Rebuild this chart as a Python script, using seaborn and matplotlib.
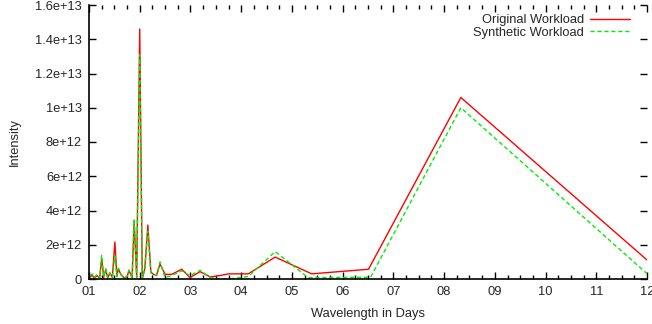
import numpy as np
import pandas as pd
import seaborn as sns
import matplotlib
matplotlib.use("Agg")
import matplotlib.pyplot as plt
from matplotlib.ticker import MultipleLocator, FixedLocator

# wavelength (days) and spectral intensity
orig_days = [1.02, 1.06, 1.10, 1.16, 1.21, 1.25, 1.29, 1.33, 1.37, 1.41, 1.46, 1.51, 1.55,
             1.58, 1.63, 1.70, 1.75, 1.79, 1.85, 1.89, 1.94, 2.00, 2.05, 2.10, 2.16, 2.22,
             2.27, 2.33, 2.40, 2.50, 2.63, 2.83, 2.99, 3.19, 3.39, 3.58, 3.75, 4.14, 4.67,
             5.39, 6.51, 8.33, 12.0]
orig_int = [0.10, 0.25, 0.05, 0.20, 0.05, 1.20, 0.10, 0.55, 0.05, 0.35, 0.10, 2.16, 0.15,
            0.60, 0.25, 0.05, 0.15, 0.50, 0.05, 3.40, 0.10, 14.6, 0.00, 0.60, 3.15, 0.40,
            0.27, 0.20, 0.87, 0.27, 0.27, 0.57, 0.08, 0.43, 0.12, 0.20, 0.30, 0.30, 1.28,
            0.30, 0.57, 10.6, 1.11]

synth_days = [1.02, 1.06, 1.10, 1.16, 1.21, 1.25, 1.29, 1.33, 1.37, 1.41, 1.46, 1.51, 1.55,
              1.58, 1.63, 1.70, 1.75, 1.79, 1.85, 1.89, 1.94, 2.00, 2.05, 2.10, 2.16, 2.22,
              2.27, 2.33, 2.40, 2.50, 2.63, 2.83, 2.99, 3.19, 3.39, 3.58, 3.75, 4.14, 4.67,
              5.32, 6.55, 8.33, 12.0]
synth_int = [0.20, 0.30, 0.08, 0.27, 0.05, 1.38, 0.10, 0.60, 0.05, 0.37, 0.10, 1.35, 0.15,
             0.62, 0.27, 0.05, 0.15, 0.53, 0.05, 3.45, 0.10, 13.1, 0.05, 0.60, 2.80, 0.35,
             0.27, 0.20, 1.00, 0.08, 0.20, 0.48, 0.20, 0.50, 0.10, 0.00, 0.00, 0.15, 1.60,
             0.08, 0.10, 10.0, 0.31]

x_ticks = list(range(1, 13))
x_tick_labels = ["%02d" % t for t in x_ticks]
y_ticks = [0, 2e12, 4e12, 6e12, 8e12, 1e13, 1.2e13, 1.4e13, 1.6e13]
y_tick_labels = ["0", "2e+12", "4e+12", "6e+12", "8e+12", "1e+13", "1.2e+13", "1.4e+13", "1.6e+13"]

orig = pd.DataFrame({"days": orig_days, "intensity": np.array(orig_int) * 1e12})
synth = pd.DataFrame({"days": synth_days, "intensity": np.array(synth_int) * 1e12})

sns.set_style("ticks")
plt.rcParams["font.family"] = ["Liberation Sans", "DejaVu Sans"]
fs = 9.3

fig = plt.figure(figsize=(6.52, 3.24), dpi=100)
ax = fig.add_axes([89 / 652, 45 / 324, 558 / 652, 274 / 324])

sns.lineplot(data=orig, x="days", y="intensity", color="#ff0000", linewidth=1,
             label="Original Workload", ax=ax)
sns.lineplot(data=synth, x="days", y="intensity", color="#00ee00", linewidth=1,
             linestyle=(0, (3, 2)), label="Synthetic Workload", ax=ax)

ax.set_xlim(1, 12)
ax.set_ylim(0, 1.6e13)
ax.xaxis.set_major_locator(FixedLocator(x_ticks))
ax.set_xticklabels(x_tick_labels)
ax.xaxis.set_minor_locator(MultipleLocator(0.25))
ax.yaxis.set_major_locator(FixedLocator(y_ticks))
ax.set_yticklabels(y_tick_labels)

ax.tick_params(which="both", direction="in", top=True, right=True, color="black",
               labelsize=fs, pad=5)
ax.tick_params(which="major", length=5, width=1)
ax.tick_params(which="minor", length=3, width=1, right=False)
ax.yaxis.set_minor_locator(plt.NullLocator())

for side in ["top", "right"]:
    ax.spines[side].set_visible(False)
for side in ["left", "bottom"]:
    ax.spines[side].set_linewidth(1.2)
    ax.spines[side].set_color("black")

ax.set_xlabel("Wavelength in Days", fontsize=fs, labelpad=7)
ax.set_ylabel("Intensity", fontsize=fs, labelpad=10)

leg = ax.legend(loc="upper right", frameon=False, markerfirst=False, fontsize=fs,
                handlelength=3.1, handletextpad=0.45, borderaxespad=0.3, labelspacing=0.05,
                bbox_to_anchor=(0.985, 1.0))

fig.savefig("out.png", dpi=100)
